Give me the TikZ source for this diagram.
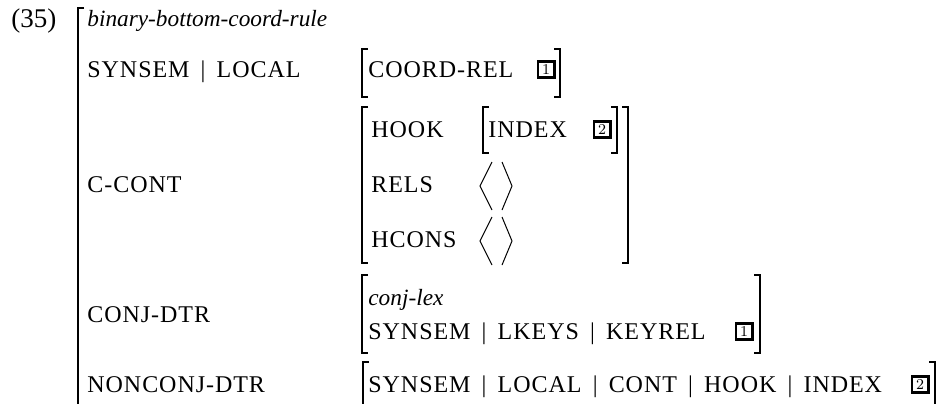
\documentclass[tikz,border=0pt]{standalone}
\usepackage{fontspec}
\newfontfamily\avmrm{Liberation Serif}
\newfontfamily\avmsc[LetterSpace=4]{Liberation Serif}
\newcommand{\psep}{\hspace{5.6pt}\textbar\hspace{5.6pt}}
\def\hk{6}
\newcommand{\avmlb}[3]{\draw[brk] (#1+\hk,#2) -- (#1,#2) -- (#1,#3) -- (#1+\hk,#3);}
\newcommand{\avmrb}[3]{\draw[brk] (#1-\hk,#2) -- (#1,#2) -- (#1,#3) -- (#1-\hk,#3);}
\newcommand{\avmang}[3]{%
  \draw[ang] (#1+12,#2) -- (#1,{(#2+#3)/2}) -- (#1+12,#3);
  \draw[ang] (#1+22,#2) -- (#1+32,{(#2+#3)/2}) -- (#1+22,#3);}
\begin{document}
\begin{tikzpicture}[x=0.5pt, y=-0.5pt,
    brk/.style={line width=0.7pt},
    ang/.style={line width=0.5pt},
    attr/.style={anchor=base west, inner sep=0, font=\avmsc\fontsize{12}{14}\selectfont},
    avmtype/.style={anchor=base west, inner sep=0, font=\avmrm\itshape\fontsize{11.65}{14}\selectfont},
    avmnum/.style={anchor=base west, inner sep=0, font=\avmrm\fontsize{13.5}{14}\selectfont},
    tagbox/.style={draw, line width=1.3pt, minimum size=8.2pt, inner sep=0, font=\fontsize{7.5}{7.5}\selectfont}]
  \useasboundingbox (0,0) rectangle (938,403);
  \clip (0,0) rectangle (938,403);
  %
  \node[avmnum] (num) at (11,27) {(35)};
  \node[avmtype] (t-rule) at (87,26) {binary-bottom-coord-rule};
  \avmlb{78}{8}{430}   % outer bracket
  %
  \node[attr] (a-local) at (87,77) {SYNSEM\psep LOCAL};
  \node[attr] (v-coord) at (368,77) {COORD-REL};
  \node[tagbox] (tag1a) at (546,69.5) {1};
  \avmlb{362}{49}{97} \avmrb{560}{49}{97}
  %
  \node[attr] (a-ccont) at (87,192) {C-CONT};
  \node[attr] (a-hook) at (371,137) {HOOK};
  \node[attr] (v-index) at (488,137) {INDEX};
  \node[tagbox] (tag2a) at (602,129.5) {2};
  \avmlb{483}{107}{153} \avmrb{617}{107}{153}   % hook value
  \node[attr] (a-rels) at (371,192) {RELS};
  \avmang{480}{162}{210}
  \node[attr] (a-hcons) at (371,247) {HCONS};
  \avmang{480}{217}{265}
  \avmlb{362}{107}{263} \avmrb{628}{107}{263}   % c-cont value
  %
  \node[attr] (a-conj) at (87,322) {CONJ-DTR};
  \node[avmtype] (t-conj) at (368,305) {conj-lex};
  \node[attr] (v-keyrel) at (368,339) {SYNSEM\psep LKEYS\psep KEYREL};
  \node[tagbox] (tag1b) at (744,331.5) {1};
  \avmlb{362}{275}{353} \avmrb{760}{275}{353}
  %
  \node[attr] (a-nonconj) at (87,392) {NONCONJ-DTR};
  \node[attr] (v-path) at (368,392) {SYNSEM\psep LOCAL\psep CONT\psep HOOK\psep INDEX};
  \node[tagbox] (tag2b) at (920,384.5) {2};
  \avmlb{363}{362}{430} \avmrb{935}{362}{430}
  %
\end{tikzpicture}
\end{document}
